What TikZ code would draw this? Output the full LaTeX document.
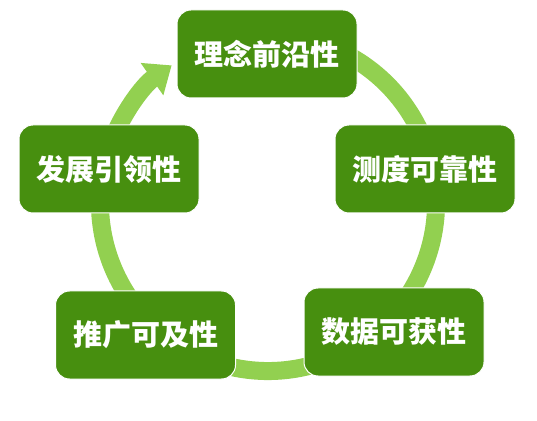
\documentclass[tikz,border=0pt]{standalone}
\usepackage{fontspec}
\newfontfamily\cjk{Noto Sans CJK SC}
\usetikzlibrary{calc,arrows.meta}
\definecolor{Leaf}{HTML}{478F0F}
\definecolor{Ring}{HTML}{92D050}

\begin{document}
\begin{tikzpicture}[x=1pt,y=1pt,
  stagebox/.style={rectangle,rounded corners=14pt,draw=white,line width=1pt,fill=Leaf,text=white,
    minimum width=180pt,minimum height=88pt,font=\cjk\bfseries\fontsize{29}{32}\selectfont}]
\useasboundingbox (0,0) rectangle (537,420);
\coordinate (ctr) at (268,217);
\coordinate (start) at ($(ctr)+(70:168)$);
% cycle ring
\draw[Ring,line width=18pt,-{Triangle[width=38pt,length=24pt]}] (start) arc[start angle=70,end angle=-235,radius=168];
\node[stagebox] (idea) at (267,366) {理念前沿性};
\node[stagebox] (measure) at (425,251) {测度可靠性};
\node[stagebox] (data) at (394,88) {数据可获性};
\node[stagebox] (spread) at (145.5,85) {推广可及性};
\node[stagebox] (lead) at (109,251) {发展引领性};
\end{tikzpicture}
\end{document}
